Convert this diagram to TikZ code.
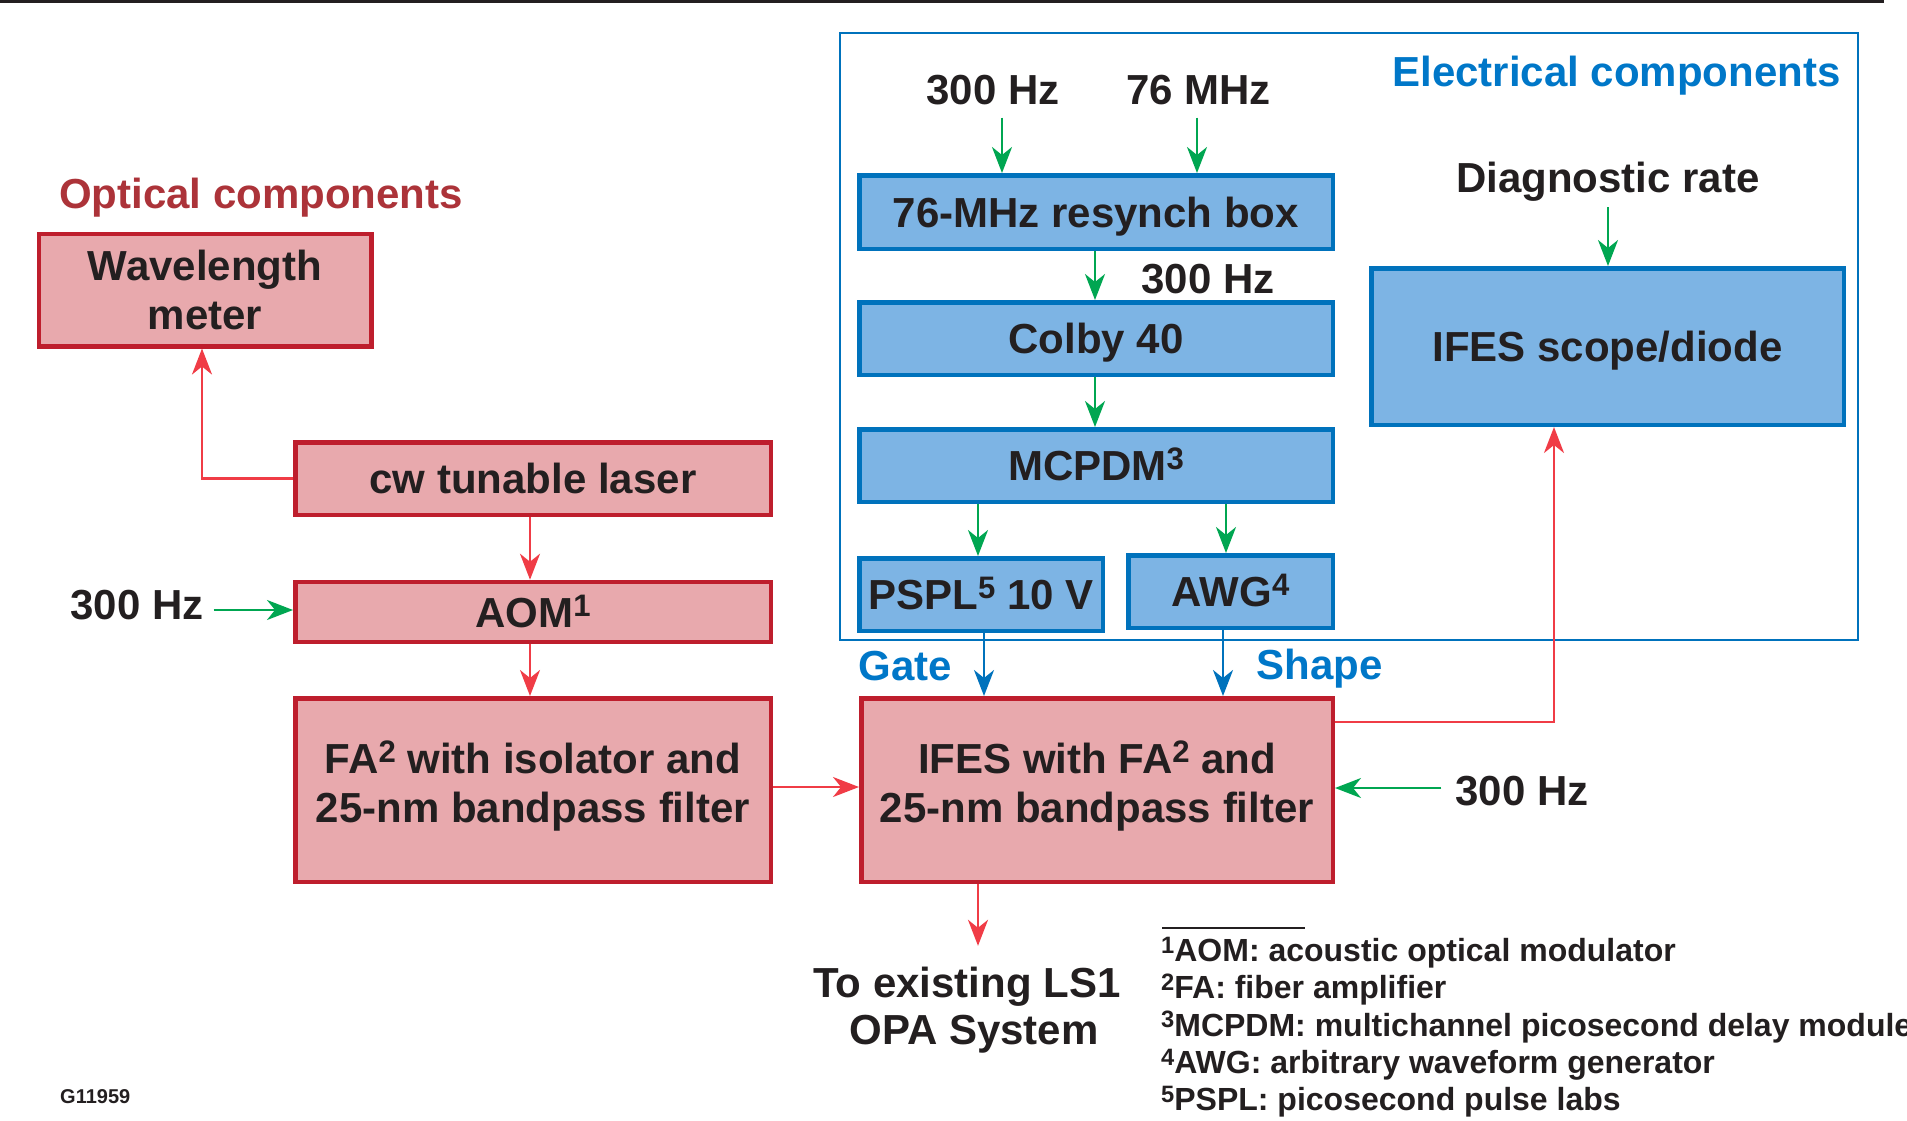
\documentclass[tikz,border=0pt]{standalone}
\usepackage{fontspec}
\setmainfont{Liberation Sans}
\usepackage{graphicx}
\usetikzlibrary{arrows.meta,calc}

\definecolor{txt}{HTML}{231F20}
\definecolor{optfill}{HTML}{E8A9AD}
\definecolor{optline}{HTML}{BE1E2D}
\definecolor{elfill}{HTML}{7DB4E4}
\definecolor{elline}{HTML}{0072BC}
\definecolor{agreen}{HTML}{00A651}
\definecolor{ared}{HTML}{F03C46}
\definecolor{ablue}{HTML}{0072BC}
\definecolor{opttitle}{HTML}{AC3339}
\definecolor{eltitle}{HTML}{0077C8}

% raised, reduced footnote marker
\newcommand\supr[1]{\raisebox{0.26em}{\scalebox{0.74}{#1}}}

\begin{document}
\begin{tikzpicture}[x=1pt,y=-1pt,
  font=\bfseries\fontsize{42}{48.5}\selectfont, text=txt,
  box/.style={draw, line width=4.5pt, inner sep=0pt, align=center},
  optbox/.style={box, draw=optline, fill=optfill},
  elbox/.style={box, draw=elline, fill=elfill},
  oneline/.style={text height=30pt, text depth=0pt},
  lbl/.style={inner sep=0pt, text height=30pt, text depth=0pt},
  fn/.style={anchor=west, inner sep=0pt, font=\bfseries\fontsize{32}{38}\selectfont,
    text height=23pt, text depth=0pt},
  arr/.style={line width=2.5pt, -{Stealth[length=26pt,width=20pt,inset=8pt]}},
  grnarr/.style={arr, draw=agreen},
  redarr/.style={arr, draw=ared},
  bluarr/.style={arr, draw=ablue}]

\useasboundingbox (0,0) rectangle (1907,1120);

% rule along the top edge
\draw[line width=3pt, txt] (0,1.5) -- (1884,1.5);

% frame around the electrical section
\draw[line width=2.5pt, elline] (840,33) rectangle (1858,640);

% optical chain
\node[lbl, text=opttitle] (opttitle) at (261,193) {Optical components};
\node[optbox, minimum width=332.5pt, minimum height=112.5pt] (wave) at (205,290) {Wavelength\\meter};
\node[optbox, oneline, minimum width=475.5pt, minimum height=72.5pt] (cw) at (533,478.5) {cw tunable laser};
\node[optbox, oneline, minimum width=475.5pt, minimum height=60pt] (aom) at (533,612) {AOM\supr{1}};
\node[optbox, text depth=17pt, minimum width=475.5pt, minimum height=183.5pt] (fa) at (533,790) {FA\supr{2} with isolator and\\25-nm bandpass filter};
\node[optbox, text depth=17pt, minimum width=471.5pt, minimum height=183.5pt] (ifes) at (1097,790) {IFES with FA\supr{2} and\\25-nm bandpass filter};

% electrical chain
\node[lbl, text=eltitle] (eltitle) at (1616.5,71.5) {Electrical components};
\node[lbl] (hz1) at (993,89.5) {300 Hz};
\node[lbl] (mhz) at (1198.5,89.5) {76 MHz};
\node[elbox, oneline, minimum width=473.5pt, minimum height=73.5pt] (sync) at (1096,212) {76-MHz resynch box};
\node[lbl] (hz2) at (1208,278) {300 Hz};
\node[elbox, oneline, minimum width=473.5pt, minimum height=72.5pt] (colby) at (1096,338.5) {Colby 40};
\node[elbox, oneline, minimum width=473.5pt, minimum height=72.5pt] (mcpdm) at (1096,465.5) {MCPDM\supr{3}};
\node[elbox, oneline, minimum width=243.5pt, minimum height=72.5pt] (pspl) at (981,594.5) {PSPL\supr{5} 10 V};
\node[elbox, oneline, minimum width=204.5pt, minimum height=72.5pt] (awg) at (1230.5,591.5) {AWG\supr{4}};
\node[lbl] (diag) at (1608,177) {Diagnostic rate};
\node[elbox, oneline, minimum width=472.5pt, minimum height=156.5pt] (scope) at (1607.5,346.5) {IFES scope/diode};

% side labels
\node[lbl] (hz3) at (137,604.5) {300 Hz};
\node[lbl] (hz4) at (1522,790) {300 Hz};
\node[lbl, text=eltitle] (gate) at (905.5,665) {Gate};
\node[lbl, text=eltitle] (shape) at (1319.5,664) {Shape};
\node[lbl] (outa) at (967,982) {To existing LS1};
\node[lbl] (outb) at (974,1029) {OPA System};

% connector columns and rows
\coordinate (xwave) at (202,0);
\coordinate (xopt) at (530,0);
\coordinate (xhz1) at (1002,0);
\coordinate (xmhz) at (1197,0);
\coordinate (xsync) at (1095,0);
\coordinate (xpspl) at (978,0);
\coordinate (xawg) at (1226,0);
\coordinate (xdiag) at (1608,0);
\coordinate (xgate) at (984,0);
\coordinate (xshape) at (1223,0);
\coordinate (xscope) at (1554,0);
\coordinate (xout) at (978,0);
\coordinate (yfa) at (0,787);
\coordinate (yhz3) at (0,610);
\coordinate (yhz4) at (0,788);
\coordinate (yfb) at (0,722);

% optical connectors
\draw[redarr] (cw.west) -| (wave.south -| xwave);
\draw[redarr] (cw.south -| xopt) -- (aom.north -| xopt);
\draw[redarr] (aom.south -| xopt) -- (fa.north -| xopt);
\draw[redarr] (fa.east |- yfa) -- (ifes.west |- yfa);
\draw[redarr] (ifes.south -| xout) -- ($(outa.north -| xout)+(0,-21)$);
\draw[redarr] (ifes.east |- yfb) -| (scope.south -| xscope);

% electrical connectors
\draw[grnarr] ($(hz1.south -| xhz1)+(0,13)$) -- (sync.north -| xhz1);
\draw[grnarr] ($(mhz.south -| xmhz)+(0,13)$) -- (sync.north -| xmhz);
\draw[grnarr] (sync.south -| xsync) -- (colby.north -| xsync);
\draw[grnarr] (colby.south -| xsync) -- (mcpdm.north -| xsync);
\draw[grnarr] (mcpdm.south -| xpspl) -- (pspl.north -| xpspl);
\draw[grnarr] (mcpdm.south -| xawg) -- (awg.north -| xawg);
\draw[grnarr] ($(diag.south -| xdiag)+(0,15)$) -- (scope.north -| xdiag);
\draw[grnarr] ($(hz3.east |- yhz3)+(10,0)$) -- (aom.west |- yhz3);
\draw[grnarr] ($(hz4.west |- yhz4)+(-14,0)$) -- (ifes.east |- yhz4);
\draw[bluarr] (pspl.south -| xgate) -- (ifes.north -| xgate);
\draw[bluarr] (awg.south -| xshape) -- (ifes.north -| xshape);

% footnotes
\draw[line width=2.5pt, txt] (1162,928) -- (1305,928);
\node[fn] (fn1) at (1161,950) {\supr{1}AOM: acoustic optical modulator};
\node[fn] (fn2) at (1161,987.3) {\supr{2}FA: fiber amplifier};
\node[fn] (fn3) at (1161,1024.6) {\supr{3}MCPDM: multichannel picosecond delay module};
\node[fn] (fn4) at (1161,1062) {\supr{4}AWG: arbitrary waveform generator};
\node[fn] (fn5) at (1161,1099) {\supr{5}PSPL: picosecond pulse labs};

% figure number
\node[anchor=west, inner sep=0pt, font=\bfseries\fontsize{20}{24}\selectfont,
  text height=14.5pt, text depth=0pt] (gnum) at (60,1096) {G11959};
\end{tikzpicture}
\end{document}
